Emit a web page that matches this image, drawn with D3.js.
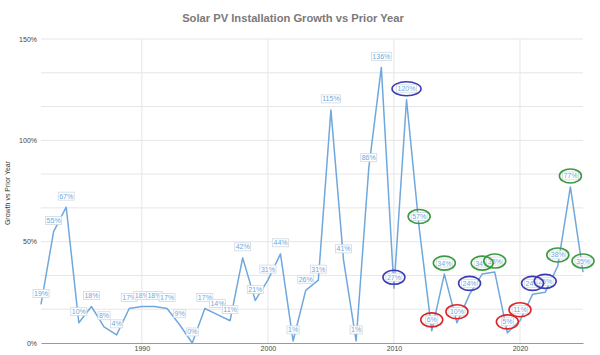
<!DOCTYPE html>
<html><head><meta charset="utf-8">
<script src="https://cdn.jsdelivr.net/npm/d3@7"></script>
<style>body{margin:0;background:#fff}svg{display:block}</style>
</head><body><svg id="c" width="600" height="355"></svg>
<script>
const years = d3.range(1982, 2026);
const growth = [19,55,67,10,18,8,4,17,18,18,17,9,0,17,14,11,42,21,31,44,1,26,31,115,41,1,86,136,27,120,57,6,34,10,24,34,35,5,11,24,25,38,77,35];
const yTicks = [0, 0.5, 1, 1.5];
const xTicks = [1990, 2000, 2010, 2020];
const blueYears = [2010, 2011, 2016, 2021, 2022];
const redYears = [2013, 2015, 2019, 2020];
const greenYears = [2012, 2014, 2017, 2018, 2023, 2024, 2025];

const svg = d3.select("#c");
const x = d3.scaleLinear().domain([1982, 2025]).range([41, 583]);
const y = d3.scaleLinear().domain([0, 1.5]).range([343, 39]);
const data = years.map((yr, i) => ({yr, v: growth[i] / 100}));

svg.append("text").attr("x", 293).attr("y", 22).attr("text-anchor", "middle")
  .attr("font-family", "Liberation Sans, Arial, sans-serif").attr("font-size", 11.2)
  .attr("font-weight", "bold").attr("fill", "#7a7a7a")
  .text("Solar PV Installation Growth vs Prior Year");

// grid
const grid = svg.append("g");
const hVals = d3.range(1, 10).map(i => i / 6);
grid.selectAll("line.h").data(hVals).join("line").attr("class", "h")
  .attr("x1", 41).attr("x2", 583).attr("y1", d => y(d)).attr("y2", d => y(d))
  .attr("stroke", "#e6e6e6").attr("stroke-width", 1);
grid.selectAll("line.v").data(xTicks).join("line").attr("class", "v")
  .attr("x1", d => x(d)).attr("x2", d => x(d)).attr("y1", 39).attr("y2", 343)
  .attr("stroke", "#e6e6e6").attr("stroke-width", 1);

const yAxis = d3.axisLeft(y).tickValues(yTicks).tickFormat(d3.format(".0%")).tickSize(0).tickPadding(4);
const ya = svg.append("g").attr("transform", "translate(41,0)").call(yAxis);
ya.select(".domain").remove();
ya.selectAll("text").attr("font-family", "Liberation Sans, Arial, sans-serif").attr("font-size", 7).attr("fill", "#444");

const xAxis = d3.axisBottom(x).tickValues(xTicks).tickFormat(d3.format("d")).tickSize(0).tickPadding(3);
const xa = svg.append("g").attr("transform", "translate(0,343)").call(xAxis);
xa.select(".domain").attr("stroke", "#999").attr("stroke-width", 1.2);
xa.selectAll("text").attr("font-family", "Liberation Sans, Arial, sans-serif").attr("font-size", 7).attr("fill", "#444");

svg.append("text").attr("transform", "translate(10,193) rotate(-90)").attr("text-anchor", "middle")
  .attr("font-family", "Liberation Sans, Arial, sans-serif").attr("font-size", 7).attr("fill", "#333")
  .text("Growth vs Prior Year");

svg.append("path").datum(data).attr("fill", "none").attr("stroke", "#6fa8dc").attr("stroke-width", 1.5)
  .attr("stroke-linejoin", "round")
  .attr("d", d3.line().x(d => x(d.yr)).y(d => y(d.v)));

const lab = svg.append("g").selectAll("g").data(data).join("g")
  .attr("transform", d => `translate(${x(d.yr)},${y(d.v) - 11})`);
lab.append("text").attr("text-anchor", "middle").attr("dy", "0.35em")
  .attr("font-family", "Liberation Sans, Arial, sans-serif").attr("font-size", 7).attr("fill", "#6fa8dc")
  .text(d => d3.format(".0%")(d.v));
lab.each(function() {
  const g = d3.select(this), t = g.select("text"), b = t.node().getBBox();
  g.insert("rect", "text").attr("x", b.x - 1).attr("y", b.y - 0.5).attr("width", b.width + 2).attr("height", b.height + 1)
    .attr("fill", "#fff").attr("stroke", "#d0d8e0").attr("stroke-width", 0.8);
});

const rings = [];
blueYears.forEach(yr => rings.push({yr, c: "#3b3bb3"}));
redYears.forEach(yr => rings.push({yr, c: "#d9262a"}));
greenYears.forEach(yr => rings.push({yr, c: "#3a9a40"}));
svg.append("g").selectAll("ellipse").data(rings).join("ellipse")
  .attr("cx", d => x(d.yr))
  .attr("cy", d => y(growth[d.yr - 1982] / 100) - 11)
  .attr("rx", d => growth[d.yr - 1982] >= 100 ? 14.5 : 11)
  .attr("ry", 7)
  .attr("fill", "none").attr("stroke", d => d.c).attr("stroke-width", 1.6);
</script></body></html>
